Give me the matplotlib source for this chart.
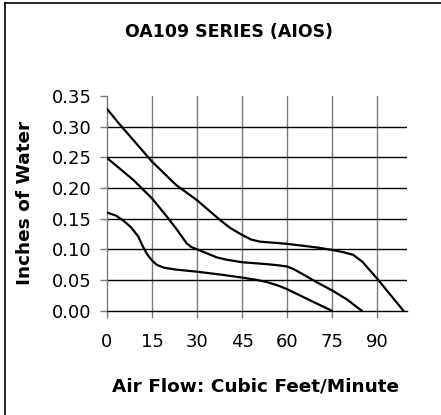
import matplotlib
matplotlib.use("Agg")
import matplotlib.pyplot as plt
from matplotlib.lines import Line2D

plt.rcParams['font.family'] = ['DejaVu Sans']

title = "OA109 SERIES (AIOS)"
x_label = "Air Flow: Cubic Feet/Minute"
y_label = "Inches of Water"
x_ticks = [0, 15, 30, 45, 60, 75, 90]
y_ticks = [0.00, 0.05, 0.10, 0.15, 0.20, 0.25, 0.30, 0.35]

top_x = [0, 4, 8.8, 15, 23, 30, 37.6, 41, 44.8, 48, 51, 55, 60, 65, 70, 75, 79, 82, 85, 90, 98.7]
top_y = [0.329, 0.305, 0.278, 0.243, 0.205, 0.180, 0.148, 0.135, 0.124, 0.116, 0.1125, 0.111,
         0.109, 0.106, 0.103, 0.099, 0.095, 0.091, 0.080, 0.052, 0.0]

mid_x = [0, 8.8, 15, 20, 23, 24.9, 26.5, 28, 30, 36.5, 40, 45, 53, 57, 60, 62, 64.3, 70, 75, 80, 84.8]
mid_y = [0.249, 0.213, 0.183, 0.153, 0.134, 0.121, 0.110, 0.104, 0.100, 0.087, 0.083, 0.079,
         0.076, 0.074, 0.072, 0.068, 0.062, 0.046, 0.033, 0.018, 0.0]

low_x = [0, 3, 5.4, 8, 10.4, 12, 13.5, 15, 16.5, 19, 23, 30, 37.6, 45, 50, 53, 57, 60, 67.6, 74.8]
low_y = [0.160, 0.155, 0.147, 0.136, 0.121, 0.104, 0.091, 0.082, 0.075, 0.070, 0.067, 0.0636,
         0.059, 0.054, 0.050, 0.047, 0.041, 0.035, 0.017, 0.0]

W, H = 441, 415
fig = plt.figure(figsize=(W / 100, H / 100), dpi=100)
fig.patch.set_facecolor('white')

ax = fig.add_axes([107 / W, 1 - 310.7 / H, 300.3 / W, (310.7 - 96) / H])
ax.set_xlim(0, 100)
ax.set_ylim(0, 0.35)

for xv in x_ticks[1:]:
    ax.axvline(xv, color='#7a7a7a', lw=1.0, zorder=1)
for yv in y_ticks[1:-1]:
    ax.axhline(yv, color='black', lw=1.0, zorder=1)

for xs, ys in [(top_x, top_y), (mid_x, mid_y), (low_x, low_y)]:
    ax.plot(xs, ys, color='black', lw=1.6, zorder=3, solid_joinstyle='round')

ax.set_xticks(x_ticks)
ax.set_xticklabels([str(v) for v in x_ticks])
ax.set_yticks(y_ticks)
ax.set_yticklabels([f"{v:.2f}" for v in y_ticks])
ax.tick_params(axis='x', direction='out', length=5, width=1, color='#7a7a7a', pad=11, labelsize=13)
ax.tick_params(axis='y', direction='out', length=5, width=1, color='#7a7a7a', pad=6, labelsize=13)

for s in ['top', 'right']:
    ax.spines[s].set_visible(False)
ax.spines['left'].set_color('#7a7a7a')
ax.spines['left'].set_linewidth(1.0)
ax.spines['bottom'].set_color('black')
ax.spines['bottom'].set_linewidth(1.0)
ax.set_facecolor('none')

fig.text(229 / W, 1 - 32 / H, title, ha='center', va='center', fontsize=12.5, fontweight='bold')
fig.text(255 / W, 1 - 386 / H, x_label, ha='center', va='center', fontsize=13.3, fontweight='bold')
fig.text(25 / W, 1 - 203 / H, y_label, ha='center', va='center', rotation=90, fontsize=13.3, fontweight='bold')

# outer frame (only top and left edges visible)
fig.add_artist(Line2D([5 / W, 5 / W], [0, 1 - 3.5 / H], transform=fig.transFigure, color='black', lw=1.2))
fig.add_artist(Line2D([5 / W, 1], [1 - 3.5 / H, 1 - 3.5 / H], transform=fig.transFigure, color='black', lw=1.2))

fig.savefig("out.png", dpi=100)
